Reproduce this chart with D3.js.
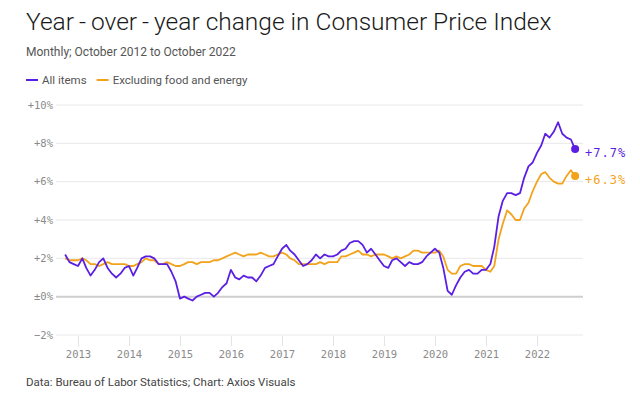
<!DOCTYPE html>
<html>
<head>
<meta charset="utf-8">
<script src="https://cdn.jsdelivr.net/npm/d3@7"></script>
<style>
  body { margin: 0; background: #fff; }
  svg { display: block; }
</style>
</head>
<body>
<div id="chart"></div>
<script>
// monthly, Oct 2012 .. Oct 2022
const allItems = [
  2.2, 1.8, 1.7,
  1.6, 2.0, 1.5, 1.1, 1.4, 1.8, 2.0, 1.5, 1.2, 1.0, 1.2, 1.5,
  1.6, 1.1, 1.5, 2.0, 2.1, 2.1, 2.0, 1.7, 1.7, 1.7, 1.3, 0.8,
  -0.1, 0.0, -0.1, -0.2, 0.0, 0.1, 0.2, 0.2, 0.0, 0.2, 0.5, 0.7,
  1.4, 1.0, 0.9, 1.1, 1.0, 1.0, 0.8, 1.1, 1.5, 1.6, 1.7, 2.1,
  2.5, 2.7, 2.4, 2.2, 1.9, 1.6, 1.7, 1.9, 2.2, 2.0, 2.2, 2.1,
  2.1, 2.2, 2.4, 2.5, 2.8, 2.9, 2.9, 2.7, 2.3, 2.5, 2.2, 1.9,
  1.6, 1.5, 1.9, 2.0, 1.8, 1.6, 1.8, 1.7, 1.7, 1.8, 2.1, 2.3,
  2.5, 2.3, 1.5, 0.3, 0.1, 0.6, 1.0, 1.3, 1.4, 1.2, 1.2, 1.4,
  1.4, 1.7, 2.6, 4.2, 5.0, 5.4, 5.4, 5.3, 5.4, 6.2, 6.8, 7.0,
  7.5, 7.9, 8.5, 8.3, 8.6, 9.1, 8.5, 8.3, 8.2, 7.7
];
const core = [
  2.0, 1.9, 1.9,
  1.9, 2.0, 1.9, 1.7, 1.7, 1.6, 1.7, 1.8, 1.7, 1.7, 1.7, 1.7,
  1.6, 1.6, 1.7, 1.8, 2.0, 1.9, 1.9, 1.7, 1.7, 1.8, 1.7, 1.6,
  1.6, 1.7, 1.8, 1.8, 1.7, 1.8, 1.8, 1.8, 1.9, 1.9, 2.0, 2.1,
  2.2, 2.3, 2.2, 2.1, 2.2, 2.2, 2.2, 2.3, 2.2, 2.1, 2.1, 2.2,
  2.3, 2.2, 2.0, 1.9, 1.7, 1.7, 1.7, 1.7, 1.7, 1.8, 1.7, 1.8,
  1.8, 1.8, 2.1, 2.1, 2.2, 2.3, 2.4, 2.2, 2.2, 2.1, 2.2, 2.2,
  2.2, 2.1, 2.0, 2.1, 2.0, 2.1, 2.2, 2.4, 2.4, 2.3, 2.3, 2.3,
  2.3, 2.4, 2.1, 1.4, 1.2, 1.2, 1.6, 1.7, 1.7, 1.6, 1.6, 1.6,
  1.4, 1.3, 1.6, 3.0, 3.8, 4.5, 4.3, 4.0, 4.0, 4.6, 4.9, 5.5,
  6.0, 6.4, 6.5, 6.2, 6.0, 5.9, 5.9, 6.3, 6.6, 6.3
];
const yTicks = [-2, 0, 2, 4, 6, 8, 10];
const yearTicks = [2013, 2014, 2015, 2016, 2017, 2018, 2019, 2020, 2021, 2022];
const seriesNames = ['All items', 'Excluding food and energy'];
const colors = ['#5b1fe3', '#f2a31b'];

const width = 640;
const height = 398;
const monoFont = "'DejaVu Sans Mono', monospace";
const sansFont = "Roboto, 'Liberation Sans', sans-serif";

const dates = allItems.map((d, i) => new Date(2012, 9 + i, 1));

const x = d3.scaleTime()
  .domain([new Date(2013, 0, 1), new Date(2022, 0, 1)])
  .range([78, 537]);
const y = d3.scaleLinear()
  .domain([-2, 10])
  .range([335, 105]);

const svg = d3.select('#chart')
  .append('svg')
  .attr('width', width)
  .attr('height', height);

// title block
svg.append('text')
  .attr('x', 26)
  .attr('y', 30)
  .attr('font-family', sansFont)
  .attr('font-weight', 300)
  .attr('font-size', '24.5px')
  .attr('fill', '#1a1a1a')
  .text('Year\u2009-\u2009over\u2009-\u2009year change in Consumer Price Index');

svg.append('text')
  .attr('x', 26)
  .attr('y', 56)
  .attr('font-family', sansFont)
  .attr('font-size', '12px')
  .attr('fill', '#555')
  .text('Monthly; October 2012 to October 2022');

// legend
let lx = 26;
seriesNames.forEach((name, i) => {
  svg.append('line')
    .attr('x1', lx).attr('x2', lx + 12)
    .attr('y1', 80).attr('y2', 80)
    .attr('stroke', colors[i])
    .attr('stroke-width', 2);
  const t = svg.append('text')
    .attr('x', lx + 16)
    .attr('y', 84)
    .attr('font-family', sansFont)
    .attr('font-size', '11.5px')
    .attr('fill', '#555')
    .text(name);
  lx += 16 + t.node().getComputedTextLength() + 10;
});

// grid
svg.selectAll('.grid')
  .data(yTicks)
  .enter()
  .append('line')
  .attr('x1', 56)
  .attr('x2', 583)
  .attr('y1', d => y(d))
  .attr('y2', d => y(d))
  .attr('stroke', d => d === 0 ? '#cfcfcf' : '#e8e8e8')
  .attr('stroke-width', d => d === 0 ? 2 : 1);

svg.selectAll('.ylab')
  .data(yTicks)
  .enter()
  .append('text')
  .attr('x', 53)
  .attr('y', d => y(d))
  .attr('dy', '0.35em')
  .attr('text-anchor', 'end')
  .attr('font-family', monoFont)
  .attr('font-size', '10.5px')
  .attr('fill', '#8a8a8a')
  .text(d => d === 0 ? '\u00b10%' : (d > 0 ? '+' : '\u2212') + Math.abs(d) + '%');

// x axis
const xAxis = d3.axisBottom(x)
  .tickValues(yearTicks.map(yr => new Date(yr, 0, 1)))
  .tickFormat(d3.timeFormat('%Y'))
  .tickSize(10)
  .tickPadding(5);

const gx = svg.append('g')
  .attr('transform', 'translate(0,336)')
  .call(xAxis);
gx.select('.domain').remove();
gx.selectAll('.tick line').attr('stroke', '#e3e3e3');
gx.selectAll('.tick text')
  .attr('font-family', monoFont)
  .attr('font-size', '10.5px')
  .attr('fill', '#8a8a8a');

// lines
const line = d3.line()
  .x((d, i) => x(dates[i]))
  .y(d => y(d));

[core, allItems].forEach((vals, k) => {
  const c = k === 0 ? colors[1] : colors[0];
  svg.append('path')
    .datum(vals)
    .attr('d', line)
    .attr('fill', 'none')
    .attr('stroke', c)
    .attr('stroke-width', 1.8)
    .attr('stroke-linejoin', 'round');
});

// end points + labels
const ends = [
  { v: allItems[allItems.length - 1], c: colors[0] },
  { v: core[core.length - 1], c: colors[1] }
];
ends.forEach(e => {
  const ex = x(dates[dates.length - 1]);
  svg.append('circle')
    .attr('cx', ex)
    .attr('cy', y(e.v))
    .attr('r', 4)
    .attr('fill', e.c);
  svg.append('text')
    .attr('x', ex + 10)
    .attr('y', y(e.v) + 4)
    .attr('dy', '0.35em')
    .attr('font-family', monoFont)
    .attr('font-size', '12px')
    .attr('letter-spacing', '1px')
    .attr('fill', e.c)
    .text('+' + e.v.toFixed(1) + '%');
});

svg.append('text')
  .attr('x', 26)
  .attr('y', 386)
  .attr('font-family', sansFont)
  .attr('font-size', '11.5px')
  .attr('fill', '#444')
  .text('Data: Bureau of Labor Statistics; Chart: Axios Visuals');
</script>
</body>
</html>
